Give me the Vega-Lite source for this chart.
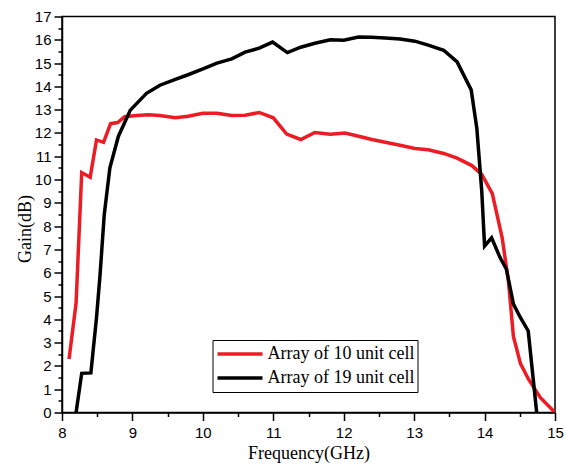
{
  "$schema": "https://vega.github.io/schema/vega-lite/v6.json",
  "autosize": {"type": "none"},
  "width": 493,
  "height": 396,
  "padding": {"left": 62, "top": 16.5, "right": 10, "bottom": 51.5},
  "background": "white",
  "config": {
    "view": {"stroke": "black", "strokeWidth": 1.5},
    "axis": {"grid": false}
  },
  "data": {
    "values": [
      {"s": "Array of 10 unit cell", "f": 8.1, "g": 2.3},
      {"s": "Array of 10 unit cell", "f": 8.2, "g": 4.7},
      {"s": "Array of 10 unit cell", "f": 8.28, "g": 10.3},
      {"s": "Array of 10 unit cell", "f": 8.4, "g": 10.1},
      {"s": "Array of 10 unit cell", "f": 8.49, "g": 11.7},
      {"s": "Array of 10 unit cell", "f": 8.59, "g": 11.6},
      {"s": "Array of 10 unit cell", "f": 8.69, "g": 12.4},
      {"s": "Array of 10 unit cell", "f": 8.79, "g": 12.45},
      {"s": "Array of 10 unit cell", "f": 8.89, "g": 12.7},
      {"s": "Array of 10 unit cell", "f": 9.06, "g": 12.75},
      {"s": "Array of 10 unit cell", "f": 9.23, "g": 12.78},
      {"s": "Array of 10 unit cell", "f": 9.39, "g": 12.75},
      {"s": "Array of 10 unit cell", "f": 9.61, "g": 12.65},
      {"s": "Array of 10 unit cell", "f": 9.79, "g": 12.72},
      {"s": "Array of 10 unit cell", "f": 10.0, "g": 12.85},
      {"s": "Array of 10 unit cell", "f": 10.2, "g": 12.85},
      {"s": "Array of 10 unit cell", "f": 10.41, "g": 12.75},
      {"s": "Array of 10 unit cell", "f": 10.6, "g": 12.76},
      {"s": "Array of 10 unit cell", "f": 10.8, "g": 12.88},
      {"s": "Array of 10 unit cell", "f": 11.0, "g": 12.65},
      {"s": "Array of 10 unit cell", "f": 11.19, "g": 11.95},
      {"s": "Array of 10 unit cell", "f": 11.39, "g": 11.72},
      {"s": "Array of 10 unit cell", "f": 11.59, "g": 12.02},
      {"s": "Array of 10 unit cell", "f": 11.81, "g": 11.95},
      {"s": "Array of 10 unit cell", "f": 12.02, "g": 12.0},
      {"s": "Array of 10 unit cell", "f": 12.21, "g": 11.86},
      {"s": "Array of 10 unit cell", "f": 12.4, "g": 11.72},
      {"s": "Array of 10 unit cell", "f": 12.59, "g": 11.6},
      {"s": "Array of 10 unit cell", "f": 12.8, "g": 11.47},
      {"s": "Array of 10 unit cell", "f": 13.01, "g": 11.33},
      {"s": "Array of 10 unit cell", "f": 13.2, "g": 11.28},
      {"s": "Array of 10 unit cell", "f": 13.42, "g": 11.12},
      {"s": "Array of 10 unit cell", "f": 13.61, "g": 10.92},
      {"s": "Array of 10 unit cell", "f": 13.82, "g": 10.6},
      {"s": "Array of 10 unit cell", "f": 13.96, "g": 10.22},
      {"s": "Array of 10 unit cell", "f": 14.11, "g": 9.4},
      {"s": "Array of 10 unit cell", "f": 14.25, "g": 7.5},
      {"s": "Array of 10 unit cell", "f": 14.34, "g": 5.6},
      {"s": "Array of 10 unit cell", "f": 14.41, "g": 3.25},
      {"s": "Array of 10 unit cell", "f": 14.51, "g": 2.1},
      {"s": "Array of 10 unit cell", "f": 14.62, "g": 1.45},
      {"s": "Array of 10 unit cell", "f": 14.79, "g": 0.65},
      {"s": "Array of 10 unit cell", "f": 15.0, "g": 0.0},
      {"s": "Array of 19 unit cell", "f": 8.2, "g": 0.0},
      {"s": "Array of 19 unit cell", "f": 8.28, "g": 1.68},
      {"s": "Array of 19 unit cell", "f": 8.41, "g": 1.7},
      {"s": "Array of 19 unit cell", "f": 8.49, "g": 4.07},
      {"s": "Array of 19 unit cell", "f": 8.54, "g": 5.9},
      {"s": "Array of 19 unit cell", "f": 8.6, "g": 8.5},
      {"s": "Array of 19 unit cell", "f": 8.68, "g": 10.5},
      {"s": "Array of 19 unit cell", "f": 8.8, "g": 11.85},
      {"s": "Array of 19 unit cell", "f": 8.97, "g": 12.98},
      {"s": "Array of 19 unit cell", "f": 9.2, "g": 13.7},
      {"s": "Array of 19 unit cell", "f": 9.39, "g": 14.05},
      {"s": "Array of 19 unit cell", "f": 9.61, "g": 14.3},
      {"s": "Array of 19 unit cell", "f": 9.79, "g": 14.5},
      {"s": "Array of 19 unit cell", "f": 10.01, "g": 14.76},
      {"s": "Array of 19 unit cell", "f": 10.2, "g": 15.0},
      {"s": "Array of 19 unit cell", "f": 10.41, "g": 15.18},
      {"s": "Array of 19 unit cell", "f": 10.6, "g": 15.47},
      {"s": "Array of 19 unit cell", "f": 10.8, "g": 15.64},
      {"s": "Array of 19 unit cell", "f": 10.99, "g": 15.9},
      {"s": "Array of 19 unit cell", "f": 11.2, "g": 15.45},
      {"s": "Array of 19 unit cell", "f": 11.39, "g": 15.68},
      {"s": "Array of 19 unit cell", "f": 11.59, "g": 15.85},
      {"s": "Array of 19 unit cell", "f": 11.81, "g": 16.0},
      {"s": "Array of 19 unit cell", "f": 12.0, "g": 15.98},
      {"s": "Array of 19 unit cell", "f": 12.21, "g": 16.12},
      {"s": "Array of 19 unit cell", "f": 12.4, "g": 16.11},
      {"s": "Array of 19 unit cell", "f": 12.59, "g": 16.08},
      {"s": "Array of 19 unit cell", "f": 12.8, "g": 16.03},
      {"s": "Array of 19 unit cell", "f": 13.01, "g": 15.94},
      {"s": "Array of 19 unit cell", "f": 13.2, "g": 15.77},
      {"s": "Array of 19 unit cell", "f": 13.42, "g": 15.55},
      {"s": "Array of 19 unit cell", "f": 13.61, "g": 15.05},
      {"s": "Array of 19 unit cell", "f": 13.81, "g": 13.85},
      {"s": "Array of 19 unit cell", "f": 13.89, "g": 12.2},
      {"s": "Array of 19 unit cell", "f": 13.96, "g": 9.5},
      {"s": "Array of 19 unit cell", "f": 14.0, "g": 7.15},
      {"s": "Array of 19 unit cell", "f": 14.1, "g": 7.5},
      {"s": "Array of 19 unit cell", "f": 14.22, "g": 6.65},
      {"s": "Array of 19 unit cell", "f": 14.31, "g": 6.15},
      {"s": "Array of 19 unit cell", "f": 14.41, "g": 4.65},
      {"s": "Array of 19 unit cell", "f": 14.51, "g": 4.07},
      {"s": "Array of 19 unit cell", "f": 14.62, "g": 3.5},
      {"s": "Array of 19 unit cell", "f": 14.74, "g": 0.0}
    ]
  },
  "mark": {"type": "line", "strokeWidth": 3.5, "clip": true},
  "encoding": {
    "x": {
      "field": "f",
      "type": "quantitative",
      "scale": {"domain": [8, 15], "nice": false, "zero": false},
      "axis": {
        "title": "Frequency(GHz)",
        "titleFont": "Liberation Serif",
        "titleFontSize": 18,
        "titleFontWeight": "normal",
        "titleColor": "black",
        "titlePadding": 4,
        "values": [8, 8.5, 9, 9.5, 10, 10.5, 11, 11.5, 12, 12.5, 13, 13.5, 14, 14.5, 15],
        "labelExpr": "datum.value % 1 === 0 ? format(datum.value, 'd') : ''",
        "labelOverlap": false,
        "labelFont": "Liberation Sans",
        "labelFontSize": 15,
        "labelColor": "black",
        "labelPadding": 5,
        "labelFlush": false,
        "domainColor": "black",
        "domainWidth": 1.5,
        "tickColor": "black",
        "tickWidth": 1.5,
        "tickSize": {"condition": {"test": "datum.value % 1 !== 0", "value": 4}, "value": 8}
      }
    },
    "y": {
      "field": "g",
      "type": "quantitative",
      "scale": {"domain": [0, 17], "nice": false},
      "axis": {
        "title": "Gain(dB)",
        "titleFont": "Liberation Serif",
        "titleFontSize": 18,
        "titleFontWeight": "normal",
        "titleColor": "black",
        "titleX": -37,
        "titleY": 212,
        "titleAngle": -90,
        "titleAlign": "center",
        "titleBaseline": "middle",
        "values": [0, 0.5, 1, 1.5, 2, 2.5, 3, 3.5, 4, 4.5, 5, 5.5, 6, 6.5, 7, 7.5, 8, 8.5, 9, 9.5, 10, 10.5, 11, 11.5, 12, 12.5, 13, 13.5, 14, 14.5, 15, 15.5, 16, 16.5, 17],
        "labelExpr": "datum.value % 1 === 0 ? format(datum.value, 'd') : ''",
        "labelOverlap": false,
        "labelFont": "Liberation Sans",
        "labelFontSize": 15,
        "labelColor": "black",
        "labelPadding": 3,
        "labelFlush": false,
        "domainColor": "black",
        "domainWidth": 1.5,
        "tickColor": "black",
        "tickWidth": 1.5,
        "tickSize": {"condition": {"test": "datum.value % 1 !== 0", "value": 4}, "value": 8}
      }
    },
    "color": {
      "field": "s",
      "type": "nominal",
      "scale": {"domain": ["Array of 10 unit cell", "Array of 19 unit cell"], "range": ["#ed1c24", "#000000"]},
      "legend": {
        "title": null,
        "orient": "none",
        "legendX": 150.5,
        "legendY": 323.5,
        "strokeColor": "black",
        "fillColor": "white",
        "padding": 3,
        "symbolType": "M-1,0H1",
        "symbolSize": 2025,
        "symbolStrokeWidth": 3.5,
        "clipHeight": 22,
        "rowPadding": 2,
        "labelFont": "Liberation Serif",
        "labelFontSize": 18,
        "labelColor": "black",
        "labelOffset": 3,
        "labelLimit": 300
      }
    }
  }
}
